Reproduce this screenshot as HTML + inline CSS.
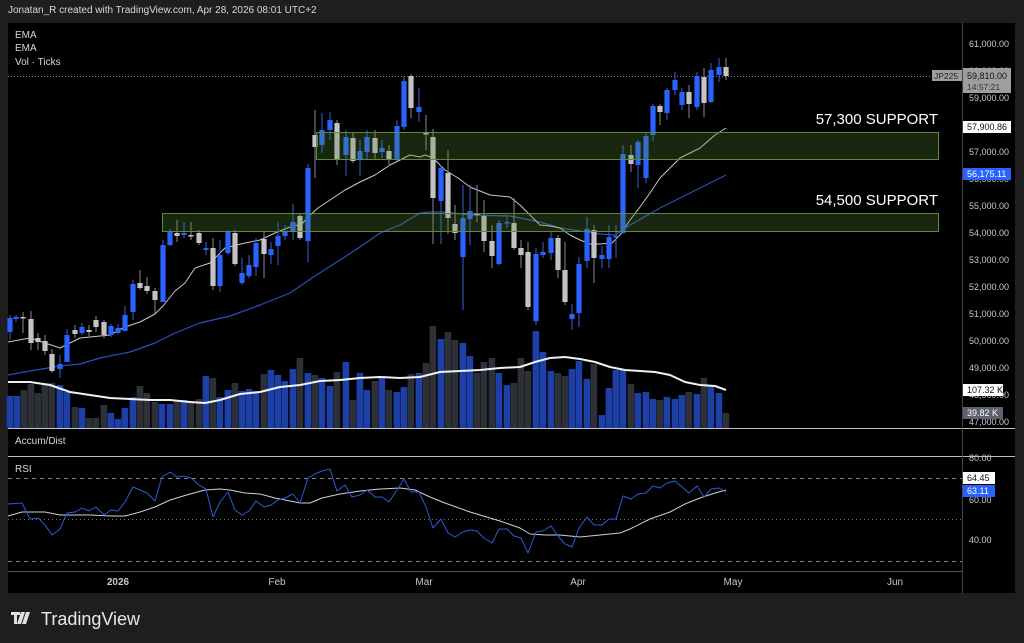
<!DOCTYPE html>
<html><head><meta charset="utf-8">
<style>
html,body{margin:0;padding:0;background:#1e1e1e;width:1024px;height:643px;overflow:hidden;font-family:"Liberation Sans",sans-serif;}
svg{position:absolute;left:0;top:0;}
</style></head><body>
<svg id="s" width="1024" height="643" viewBox="0 0 1024 643" xmlns="http://www.w3.org/2000/svg" font-family="Liberation Sans, sans-serif">
<rect x="0" y="0" width="1024" height="643" fill="#1e1e1e"/>
<text x="8" y="13" fill="#d8d8d8" font-size="10">Jonatan_R created with TradingView.com, Apr 28, 2026 08:01 UTC+2</text>
<rect x="8" y="23" width="1007" height="570" fill="#000"/>
<g id="g"></g>
</svg>
<script>
const NS="http://www.w3.org/2000/svg",g=document.getElementById('g');
function el(t,a,txt){const e=document.createElementNS(NS,t);for(const k in a)e.setAttribute(k,a[k]);if(txt!==undefined)e.textContent=txt;g.appendChild(e);return e;}
el('line',{x1:8,y1:428.5,x2:1015,y2:428.5,stroke:'#bdbdbd','stroke-width':1});
el('line',{x1:8,y1:456.5,x2:1015,y2:456.5,stroke:'#bdbdbd','stroke-width':1});
el('line',{x1:8,y1:571.5,x2:962,y2:571.5,stroke:'#555','stroke-width':1});
el('line',{x1:962.5,y1:23,x2:962.5,y2:593,stroke:'#444','stroke-width':1});
el('line',{x1:8,y1:478.5,x2:962,y2:478.5,stroke:'#888','stroke-dasharray':'4 4'});
el('line',{x1:8,y1:519.5,x2:962,y2:519.5,stroke:'#777','stroke-dasharray':'1 3'});
el('line',{x1:8,y1:561.5,x2:962,y2:561.5,stroke:'#888','stroke-dasharray':'4 4'});
el('line',{x1:8,y1:76.5,x2:930,y2:76.5,stroke:'#888','stroke-dasharray':'1 2'});
[['EMA',38],['EMA',51],['Vol · Ticks',65],['Accum/Dist',444],['RSI',472]].forEach(a=>el('text',{x:15,y:a[1],fill:'#d8d8d8','font-size':10},a[0]));
const V=[[10,396,'b'],[17,396,'b'],[24,390,'g'],[31,384,'g'],[38,393,'g'],[45,383,'g'],[52,383,'g'],[60,385,'b'],[67,392,'b'],[75,407,'g'],[82,408,'b'],[89,418,'g'],[96,418,'g'],[104,405,'g'],[111,413,'b'],[118,419,'b'],[125,408,'b'],[133,397,'b'],[140,386,'g'],[147,393,'g'],[155,402,'g'],[162,404,'b'],[170,404,'b'],[177,400,'g'],[184,400,'b'],[191,402,'g'],[199,399,'g'],[206,376,'b'],[213,378,'g'],[220,397,'b'],[228,390,'b'],[235,383,'g'],[242,391,'b'],[249,389,'b'],[256,391,'b'],[264,374,'g'],[271,370,'b'],[278,375,'b'],[285,381,'b'],[293,369,'b'],[300,358,'g'],[308,373,'b'],[315,375,'g'],[322,378,'b'],[330,386,'b'],[337,372,'g'],[346,362,'b'],[353,400,'g'],[360,373,'b'],[367,390,'b'],[375,381,'g'],[382,378,'b'],[389,390,'g'],[397,392,'b'],[404,387,'b'],[411,374,'g'],[419,373,'b'],[426,363,'g'],[433,326,'g'],[441,339,'b'],[448,332,'g'],[455,340,'g'],[463,343,'b'],[470,356,'b'],[477,373,'g'],[484,362,'g'],[492,358,'g'],[499,373,'b'],[507,385,'b'],[514,383,'g'],[521,358,'g'],[528,371,'g'],[536,331,'b'],[543,352,'b'],[551,371,'b'],[558,373,'g'],[565,376,'g'],[572,369,'b'],[579,361,'b'],[587,379,'b'],[594,364,'g'],[602,415,'b'],[609,388,'b'],[616,370,'b'],[623,370,'b'],[631,384,'g'],[638,393,'b'],[646,392,'b'],[653,399,'b'],[660,400,'g'],[667,397,'b'],[675,399,'b'],[682,395,'b'],[689,392,'g'],[697,394,'b'],[704,378,'g'],[711,385,'b'],[719,393,'b'],[726,413,'g']];
V.forEach(v=>el('rect',{x:v[0]-3.4,y:v[1],width:6.6,height:428-v[1],fill:v[2]=='b'?'#1e3fa6':'#2e3038'}));
function pl(pts,c,w){el('polyline',{points:pts.map(p=>p.join(',')).join(' '),fill:'none',stroke:c,'stroke-width':w,'stroke-linejoin':'round'});}
pl([[8,382],[30,382],[50,385],[70,392],[90,395],[110,398],[130,399],[150,400],[170,400],[190,402],[205,403],[220,400],[240,394],[260,392],[280,387],[300,385],[320,381],[340,380],[360,378],[380,377],[400,378],[420,377],[440,372],[460,371],[480,370],[500,368],[520,367],[535,362],[550,358],[565,357],[580,359],[595,362],[610,367],[625,370],[640,371],[655,372],[670,375],[685,382],[700,385],[715,386],[726,390]],'#f0f0f0',2);
pl([[8,375],[30,371],[60,366],[80,364],[100,358],[130,352],[155,343],[175,333],[200,323],[230,316],[260,305],[290,293],[315,276],[340,260],[360,247],[380,233],[400,225],[420,213],[430,212],[445,212],[470,215],[510,216],[540,222],[560,228],[580,231],[600,234],[615,235],[630,225],[660,208],[680,198],[700,188],[726,175]],'#2a4fbf',1.2);
pl([[8,342],[30,338],[60,348],[80,338],[110,335],[125,327],[140,322],[155,314],[163,306],[175,291],[185,283],[195,268],[210,263],[225,248],[245,243],[260,240],[275,233],[290,227],[302,224],[308,217],[318,208],[330,200],[345,190],[360,182],[375,175],[390,165],[400,160],[410,155],[420,157],[425,155],[433,158],[445,170],[458,178],[470,187],[490,195],[510,197],[520,205],[530,215],[540,225],[550,226],[560,228],[570,235],[580,240],[590,244],[600,244],[612,243],[620,235],[630,220],[640,207],[650,193],[660,178],[670,168],[680,158],[700,148],[715,135],[726,128]],'#c8c8c8',1);
const C=[[10,318,332,'b',315,340],[16,317,319,'b',315,322],[23,317,318,'g',312,333],[31,319,343,'g',311,350],[38,338,342,'g',333,350],[45,341,351,'g',335,355],[52,354,371,'g',349,373],[60,364,369,'b',355,378],[67,335,362,'b',329,362],[75,330,334,'g',325,338],[82,327,333,'b',323,335],[89,330,332,'g',325,336],[96,320,327,'g',316,332],[104,322,335,'g',320,338],[111,326,335,'b',324,337],[118,328,333,'b',324,334],[125,315,331,'b',306,331],[133,284,312,'b',280,320],[140,283,288,'g',270,290],[147,286,291,'g',277,294],[155,291,300,'g',288,313],[163,245,302,'b',240,302],[170,231,245,'b',229,246],[177,233,236,'g',220,242],[184,233,235,'b',222,238],[191,235,236,'g',222,240],[199,233,243,'g',230,245],[206,248,250,'b',242,255],[213,248,286,'g',238,290],[220,255,286,'b',240,292],[228,232,253,'b',230,255],[235,233,264,'g',230,266],[242,273,283,'b',258,285],[249,265,276,'b',255,278],[256,243,267,'b',238,276],[264,239,254,'g',232,278],[271,249,255,'b',242,264],[278,236,246,'b',222,265],[285,232,236,'b',225,240],[293,222,232,'b',204,240],[300,216,238,'g',214,240],[308,168,241,'b',164,262],[315,135,147,'g',110,178],[322,130,145,'b',113,153],[330,120,130,'b',112,140],[337,123,160,'g',120,165],[346,137,155,'b',130,176],[353,138,161,'g',133,163],[360,151,159,'b',140,176],[367,137,152,'b',130,160],[375,138,153,'g',130,160],[382,148,152,'b',140,158],[389,151,159,'g',145,166],[397,126,159,'b',120,161],[404,81,127,'b',76,130],[411,76,108,'g',74,118],[419,107,112,'b',88,122],[426,133,134,'g',115,150],[433,137,198,'g',129,244],[441,168,201,'b',165,244],[448,173,218,'g',150,234],[455,224,233,'g',205,240],[463,218,257,'b',185,310],[470,211,219,'b',185,245],[477,213,215,'g',185,222],[484,216,241,'g',200,252],[492,241,256,'g',225,268],[499,223,264,'b',220,265],[507,222,223,'b',215,228],[514,223,248,'g',198,250],[521,248,255,'g',240,268],[528,252,307,'g',242,310],[536,254,321,'b',248,325],[543,252,255,'b',242,258],[551,238,253,'b',232,260],[558,238,270,'g',235,278],[565,270,302,'g',242,305],[572,314,319,'b',304,330],[579,264,313,'b',257,327],[587,229,261,'b',217,268],[594,230,258,'g',225,283],[602,255,259,'b',246,268],[609,237,259,'b',225,268],[616,236,237,'b',225,258],[623,154,233,'b',145,234],[631,155,164,'g',145,172],[638,142,165,'b',140,188],[646,136,178,'b',132,183],[653,106,135,'b',104,141],[660,106,112,'g',104,125],[667,90,113,'b',88,120],[675,80,90,'b',72,95],[682,92,105,'b',88,110],[689,92,104,'g',85,118],[697,76,107,'b',72,110],[704,77,103,'g',68,117],[711,70,102,'b',63,103],[719,67,75,'b',58,82],[726,67,76,'g',58,80]];
C.forEach(c=>{const col=c[3]=='b'?'#2962ff':'#c3c3c3';
el('line',{x1:c[0],y1:c[4],x2:c[0],y2:c[5],stroke:c[3]=='b'?'#3a5fd0':'#8a8a8a','stroke-width':1});
el('rect',{x:c[0]-2.6,y:c[1],width:5.2,height:Math.max(1.5,c[2]-c[1]),fill:col});});
el('rect',{x:316.5,y:132.5,width:622,height:27,fill:'rgba(90,140,60,0.28)',stroke:'#5a8a3c','stroke-width':1});
el('rect',{x:162.5,y:213.5,width:776,height:18,fill:'rgba(90,140,60,0.28)',stroke:'#5a8a3c','stroke-width':1});
el('text',{x:938,y:124,fill:'#fff','font-size':15,'text-anchor':'end'},'57,300 SUPPORT');
el('text',{x:938,y:205,fill:'#fff','font-size':15,'text-anchor':'end'},'54,500 SUPPORT');
pl([[8,516],[22,512],[45,512],[60,515],[90,515],[110,516],[125,516],[140,512],[155,507],[170,500],[190,494],[205,490],[220,489],[230,490],[245,493],[260,494],[275,498],[290,501],[300,503],[310,503],[322,498],[340,494],[360,491],[380,489],[400,488],[415,490],[430,497],[445,503],[470,512],[500,521],[520,528],[530,534],[545,535],[560,535],[580,537],[600,535],[610,534],[620,533],[630,529],[650,519],[670,512],[685,504],[700,498],[715,493],[726,490]],'#d0d0d0',1);
pl([[8,504],[22,503],[30,519],[38,518],[45,525],[52,535],[60,529],[67,513],[75,512],[82,508],[89,511],[96,507],[104,515],[111,510],[118,511],[125,502],[133,487],[140,490],[147,493],[155,501],[162,477],[170,472],[177,477],[184,476],[191,478],[199,485],[206,489],[213,517],[220,502],[228,492],[235,510],[242,515],[249,511],[256,501],[264,507],[271,505],[278,500],[285,498],[293,494],[300,503],[308,478],[315,474],[322,471],[330,469],[337,491],[345,485],[352,497],[360,495],[367,490],[375,497],[382,497],[389,502],[397,490],[404,479],[411,492],[419,492],[426,507],[433,528],[441,519],[448,533],[455,537],[463,532],[470,530],[477,531],[484,538],[492,543],[499,529],[507,529],[514,536],[521,538],[528,553],[536,532],[543,531],[551,526],[558,536],[565,544],[572,547],[579,528],[587,517],[594,525],[602,525],[609,519],[616,519],[623,496],[631,499],[638,494],[646,493],[653,486],[660,488],[667,483],[675,481],[682,487],[689,493],[697,486],[704,497],[711,489],[719,488],[726,492]],'#2a5cd6',1);
[[61000,47],[60000,74],[59000,101],[58000,128],[57000,155],[56000,182],[55000,209],[54000,236],[53000,263],[52000,290],[51000,317],[50000,344],[49000,371],[48000,398],[47000,425]].forEach(p=>el('text',{x:969,y:p[1],fill:'#c8c8c8','font-size':9},p[0].toLocaleString('en-US')+'.00'));
[['80.00',461],['60.00',503],['40.00',543]].forEach(p=>el('text',{x:969,y:p[1],fill:'#c8c8c8','font-size':9},p[0]));
function tag(y,h,bg,fg,t,w){el('rect',{x:963,y:y,width:w||48,height:h,fill:bg});el('text',{x:967,y:y+h-3,fill:fg,'font-size':9},t);}
el('rect',{x:932,y:70,width:30,height:11,fill:'#9e9e9e'});el('text',{x:934,y:79,fill:'#222','font-size':8.5},'JP225');
el('rect',{x:963,y:68,width:48,height:25,fill:'#9e9e9e'});el('text',{x:967,y:79,fill:'#111','font-size':9},'59,810.00');el('text',{x:967,y:90,fill:'#333','font-size':8.5},'14:57:21');
tag(121,12,'#fff','#111','57,900.86');tag(168,12,'#2962ff','#fff','56,175.11');
tag(384,12,'#fff','#111','107.32 K',40);tag(407,12,'#5d6170','#fff','39.82 K',40);
tag(472,12,'#fff','#111','64.45',32);tag(485,12,'#2962ff','#fff','63.11',32);
[['2026',118],['Feb',277],['Mar',424],['Apr',578],['May',733],['Jun',895]].forEach(t=>el('text',{x:t[1],y:585,fill:'#c8c8c8','font-size':10,'text-anchor':'middle','font-weight':t[0]=='2026'?'bold':'normal'},t[0]));
el('path',{d:'M11 612h9v3h-3v9h-3v-9h-3zM21 612h4l-4 12h-4zM26 612h4l-4 12h-4z',fill:'#e0e0e0'});
el('text',{x:41,y:625,fill:'#e8e8e8','font-size':18},'TradingView');
</script>
</body></html>
